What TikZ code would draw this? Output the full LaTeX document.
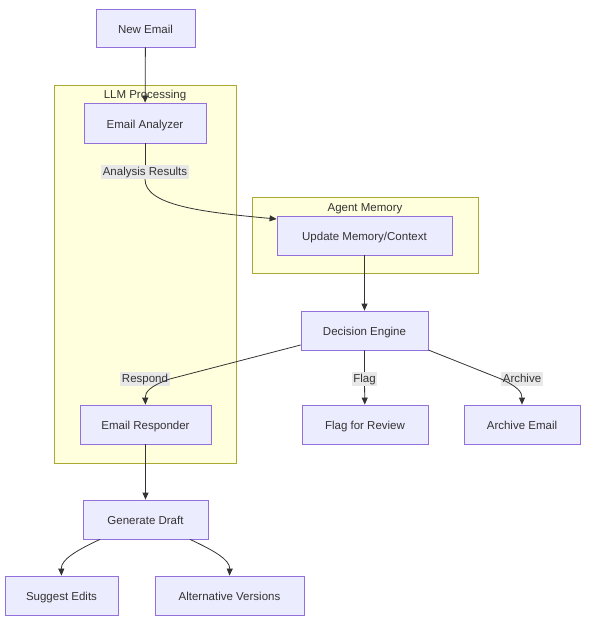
\documentclass[tikz,border=0pt]{standalone}
\usepackage{fontspec}
\setmainfont{Liberation Sans}
\usetikzlibrary{arrows.meta}
\definecolor{nodefill}{HTML}{ECECFF}
\definecolor{nodeline}{HTML}{9370DB}
\definecolor{clfill}{HTML}{FFFFDE}
\definecolor{clline}{HTML}{AAAA33}
\definecolor{edge}{HTML}{333333}
\definecolor{lblbg}{HTML}{E8E8E8}
\definecolor{txt}{HTML}{333333}
\tikzset{
  box/.style={draw=nodeline, fill=nodefill, line width=0.8pt, inner sep=0pt, text=txt, font=\fontsize{11.5}{13}\selectfont, text height=11pt, text depth=0.5pt},
  cluster/.style={draw=clline, fill=clfill, line width=0.8pt},
  cltitle/.style={text=txt, font=\fontsize{11.5}{13}\selectfont, inner sep=0pt, text height=8.3pt, text depth=2.3pt},
  elabel/.style={fill=lblbg, text=txt, font=\fontsize{11.5}{13}\selectfont, inner sep=1.5pt, text height=8.5pt, text depth=2.5pt},
  conn/.style={draw=edge, line width=0.8pt, -{Triangle[length=7pt,width=6pt]}},
  connplain/.style={draw=edge, line width=0.8pt},
}
\begin{document}
\begin{tikzpicture}[x=1pt,y=-1pt]
\useasboundingbox (0,0) rectangle (590,622);
% clusters
\node[cluster, minimum width=182pt, minimum height=378pt, anchor=north west] (llm) at (54,85) {};
\node[cltitle] (llmt) at (145,95.5) {LLM Processing};
\node[cluster, minimum width=226pt, minimum height=76pt, anchor=north west] (mem) at (252,197) {};
\node[cltitle] (memt) at (365,208.5) {Agent Memory};
% nodes
\node[box, minimum width=99pt, minimum height=38pt] (new) at (145.5,28) {New Email};
\node[box, minimum width=122pt, minimum height=40pt] (ana) at (145,123) {Email Analyzer};
\node[box, minimum width=175pt, minimum height=39pt] (upd) at (364.5,235.5) {Update Memory/Context};
\node[box, minimum width=127pt, minimum height=39pt] (dec) at (364.5,330.5) {Decision Engine};
\node[box, minimum width=131pt, minimum height=39pt] (resp) at (145.5,424.5) {Email Responder};
\node[box, minimum width=126pt, minimum height=39pt] (flag) at (365,424.5) {Flag for Review};
\node[box, minimum width=116pt, minimum height=39pt] (arch) at (522,424.5) {Archive Email};
\node[box, minimum width=125pt, minimum height=39pt] (gen) at (145.5,519.5) {Generate Draft};
\node[box, minimum width=113pt, minimum height=39pt] (sug) at (61.5,595.5) {Suggest Edits};
\node[box, minimum width=149pt, minimum height=39pt] (alt) at (229.5,595.5) {Alternative Versions};
% edge labels
\node[elabel] (lar) at (145,172) {Analysis Results};
\node[elabel] (lresp) at (145,379) {Respond};
\node[elabel] (lflag) at (364.5,379) {Flag};
\node[elabel] (larch) at (522,379) {Archive};
% edges
\draw[conn] (new) -- (ana);
\draw[connplain] (ana) -- (lar);
\draw[conn] (lar.south) .. controls (145,205) and (200,212) .. (upd.west|-0,219);
\draw[conn] (upd) -- (dec);
\draw[connplain] (dec.west|-0,345) -- (lresp.east);
\draw[conn] (lresp.east) .. controls (150,386) and (145,392) .. (resp.north);
\draw[conn] (dec) -- (lflag) -- (flag);
\draw[connplain] (dec.east|-0,350) -- (larch.west);
\draw[conn] (larch.west) .. controls (518,387) and (522,392) .. (arch.north);
\draw[conn] (resp) -- (gen);
\draw[conn] (gen.south-|100,0) .. controls (75,551) and (61,560) .. (sug.north);
\draw[conn] (gen.south-|190,0) .. controls (215,551) and (230,560) .. (alt.north);
\end{tikzpicture}
\end{document}
